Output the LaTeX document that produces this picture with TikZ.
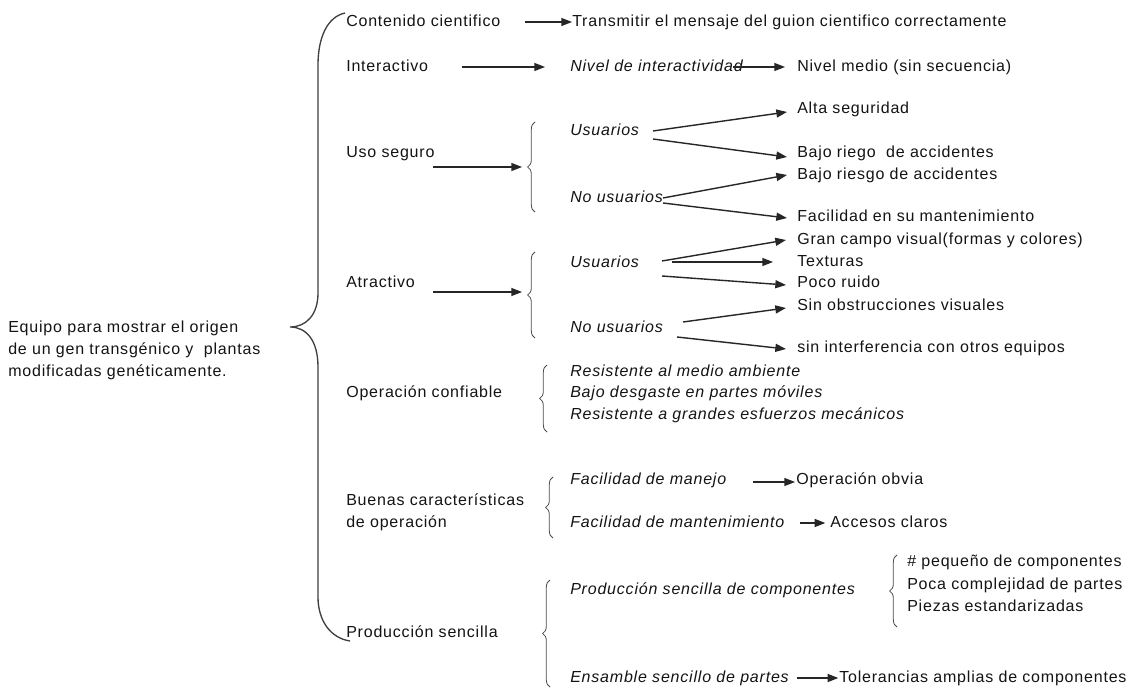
\documentclass[tikz,border=0pt]{standalone}
\usepackage{fontspec}
\setmainfont{Liberation Sans}[LetterSpace=5]
\usetikzlibrary{arrows.meta,decorations.pathreplacing}

\begin{document}
\begin{tikzpicture}[x=0.75pt,y=-0.75pt,
  base/.style={font=\fontsize{12}{16.5}\selectfont, text=black!92, inner sep=0pt, anchor=west,
               text height=8.6pt, text depth=2.4pt},
  lbl/.style={base},
  itl/.style={base, font=\fontsize{12}{16.5}\selectfont\itshape},
  conn/.style={draw=black!85, line width=1.05pt, -{Triangle[length=8pt,width=6pt]}},
  bigbrace/.style={draw=black!75, line width=1pt},
  smallbrace/.style={draw=black!70, line width=0.6pt, decorate,
                     decoration={brace, amplitude=5.5pt}},
]
\useasboundingbox[fill=white] (0,0) rectangle (1129,688);

% ---- root and its brace ----
\node[base, align=left, text height=, text depth=] (root) at (8,350)
  {Equipo para mostrar el origen\\de un gen transgénico y\ \ plantas\\modificadas genéticamente.};
\draw[bigbrace] (345,13) .. controls (327,17) and (318,38) .. (318,65) -- (318,293)
  .. controls (318,315) and (306,327) .. (290,327)
  .. controls (306,327) and (318,340) .. (318,367) -- (318,597)
  .. controls (318,620) and (330,638) .. (350,641);

% ---- first level ----
\node[lbl] (c1) at (346,22) {Contenido cientifico};
\node[lbl] (c2) at (346,67) {Interactivo};
\node[lbl] (c3) at (346,153) {Uso seguro};
\node[lbl] (c4) at (346,283) {Atractivo};
\node[lbl] (c5) at (346,393) {Operación confiable};
\node[base, align=left, text height=, text depth=] (c6) at (346,512) {Buenas características\\de operación};
\node[lbl] (c7) at (346,633) {Producción sencilla};

% ---- contenido / interactivo ----
\node[lbl] (t1) at (572,22) {Transmitir el mensaje del guion cientifico correctamente};
\node[itl] (n1) at (570,67) {Nivel de interactividad};
\node[lbl] (n2) at (797,67) {Nivel medio (sin secuencia)};
\coordinate (c1s) at (525,22);
\coordinate (c2s) at (462,67);
\coordinate (c2e) at (545,67);
\coordinate (n1s) at (733,67);
\draw[conn] (c1s) -- (t1.west);
\draw[conn] (c2s) -- (c2e);
\draw[conn] (n1s) -- ([xshift=-9pt]n2.west);

% ---- uso seguro ----
\coordinate (c3s) at (433,167);
\coordinate (b1tip) at (522,167);
\draw[conn] (c3s) -- (b1tip);
\draw[smallbrace] (535,212) -- (535,122);
\node[itl] (u1) at (570,131) {Usuarios};
\node[itl] (u2) at (570,198) {No usuarios};
\node[lbl] (a1) at (797,109) {Alta seguridad};
\node[lbl] (a2) at (797,153) {Bajo riego\ \ de accidentes};
\node[lbl] (a3) at (797,175) {Bajo riesgo de accidentes};
\node[lbl] (a4) at (797,217) {Facilidad en su mantenimiento};
\coordinate (u1a) at (653,131);
\coordinate (u1b) at (653,139);
\coordinate (u2a) at (663,198);
\coordinate (u2b) at (663,203);
\draw[conn] (u1a) -- (787,112);
\draw[conn] (u1b) -- (787,157);
\draw[conn] (u2a) -- (787,175);
\draw[conn] (u2b) -- (787,218);

% ---- atractivo ----
\coordinate (c4s) at (433,292);
\coordinate (b2tip) at (522,292);
\draw[conn] (c4s) -- (b2tip);
\draw[smallbrace] (535,338) -- (535,252);
\node[itl] (v1) at (570,263) {Usuarios};
\node[itl] (v2) at (570,328) {No usuarios};
\node[lbl] (g1) at (797,240) {Gran campo visual(formas y colores)};
\node[lbl] (g2) at (797,262) {Texturas};
\node[lbl] (g3) at (797,283) {Poco ruido};
\node[lbl] (g4) at (797,306) {Sin obstrucciones visuales};
\node[lbl] (g5) at (797,348) {sin interferencia con otros equipos};
\coordinate (v1a) at (662,261);
\coordinate (v1b) at (672,262);
\coordinate (v1c) at (662,276);
\coordinate (v2a) at (683,322);
\coordinate (v2b) at (677,337);
\draw[conn] (v1a) -- (786,240);
\draw[conn] (v1b) -- (773,262);
\draw[conn] (v1c) -- (786,285);
\draw[conn] (v2a) -- (786,308);
\draw[conn] (v2b) -- (786,349);

% ---- operacion confiable ----
\draw[smallbrace] (547,432) -- (547,365);
\node[itl] (o1) at (570,372) {Resistente al medio ambiente};
\node[itl] (o2) at (570,393) {Bajo desgaste en partes móviles};
\node[itl] (o3) at (570,415) {Resistente a grandes esfuerzos mecánicos};

% ---- buenas caracteristicas ----
\draw[smallbrace] (553,538) -- (553,477);
\node[itl] (f1) at (570,480) {Facilidad de manejo};
\node[itl] (f2) at (570,523) {Facilidad de mantenimiento};
\node[lbl] (h1) at (796,480) {Operación obvia};
\node[lbl] (h2) at (830,523) {Accesos claros};
\coordinate (f1s) at (753,482);
\coordinate (f2s) at (800,523);
\draw[conn] (f1s) -- (795,482);
\draw[conn] (f2s) -- ([xshift=-3.5pt]h2.west);

% ---- produccion sencilla ----
\draw[smallbrace] (550,687) -- (550,580);
\node[itl] (p1) at (570,590) {Producción sencilla de componentes};
\node[itl] (p2) at (570,678) {Ensamble sencillo de partes};
\draw[smallbrace] (897,627) -- (897,555);
\node[lbl] (q1) at (907,562) {\# pequeño de componentes};
\node[lbl] (q2) at (907,585) {Poca complejidad de partes};
\node[lbl] (q3) at (907,607) {Piezas estandarizadas};
\node[lbl] (r1) at (839,678) {Tolerancias amplias de componentes};
\coordinate (p2s) at (797,678);
\draw[conn] (p2s) -- ([xshift=-0.5pt]r1.west);
\end{tikzpicture}
\end{document}
